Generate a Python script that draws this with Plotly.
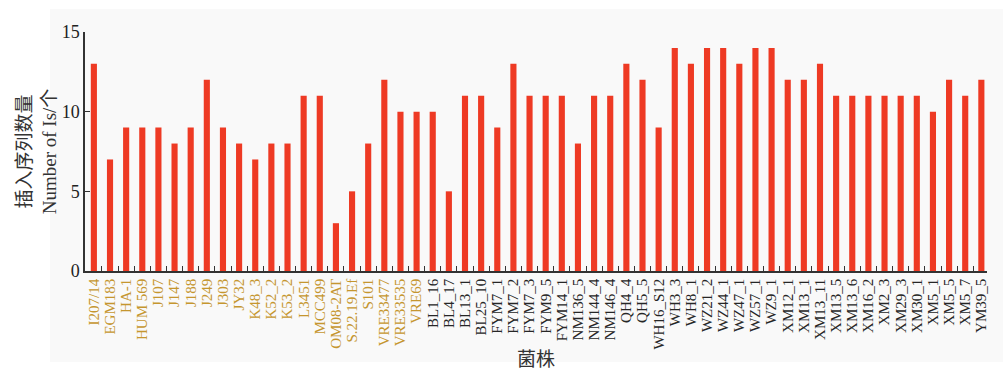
import plotly.graph_objects as go

# Strains from public databases (shown in gold) and isolates from this study (black)
ref_strains = ["I207/14", "EGM183", "HA-1", "HUM 569", "J107", "J147", "J188", "J249",
               "J303", "JY32", "K48_3", "K52_2", "K53_2", "L3451", "MCC499", "OM08-2AT",
               "S.22.19.Ef", "S101", "VRE33477", "VRE33535", "VRE69"]
ref_counts = [13, 7, 9, 9, 9, 8, 9, 12, 9, 8, 7, 8, 8, 11, 11, 3, 5, 8, 12, 10, 10]

new_strains = ["BL1_16", "BL4_17", "BL13_1", "BL25_10", "FYM7_1", "FYM7_2", "FYM7_3",
               "FYM9_5", "FYM14_1", "NM136_5", "NM144_4", "NM146_4", "QH4_4", "QH5_5",
               "WH16_S12", "WH3_3", "WH8_1", "WZ21_2", "WZ44_1", "WZ47_1", "WZ57_1",
               "WZ9_1", "XM12_1", "XM13_1", "XM13_11", "XM13_5", "XM13_6", "XM16_2",
               "XM2_3", "XM29_3", "XM30_1", "XM5_1", "XM5_5", "XM5_7", "YM39_5"]
new_counts = [10, 5, 11, 11, 9, 13, 11, 11, 11, 8, 11, 11, 13, 12, 9, 14, 13, 14, 14,
              13, 14, 14, 12, 12, 13, 11, 11, 11, 11, 11, 11, 10, 12, 11, 12]

y_ticks = [0, 5, 10, 15]

GOLD = "#c5962f"
DARK = "#262626"
BG = "#f9f9f9"

strains = ref_strains + new_strains
counts = ref_counts + new_counts
tick_text = ([f'<span style="color:{GOLD}">{s}</span>' for s in ref_strains] +
             [f'<span style="color:{DARK}">{s}</span>' for s in new_strains])

fig = go.Figure(go.Bar(x=strains, y=counts, marker=dict(color="#ee3a24", line=dict(width=0))))

fig.update_layout(
    width=1003, height=378,
    margin=dict(l=85, r=16, t=32, b=107),
    paper_bgcolor="white",
    plot_bgcolor=BG,
    bargap=0.62,
    showlegend=False,
    font=dict(family="Liberation Serif", color="#333"),
    shapes=[dict(type="rect", xref="paper", yref="paper",
                 x0=-0.0388, x1=1.02, y0=-0.381, y1=1.096,
                 fillcolor=BG, line=dict(width=0), layer="below")],
)

fig.update_xaxes(
    type="category",
    range=[-0.55, 55.35],
    automargin=False,
    tickmode="array", tickvals=strains, ticktext=tick_text,
    tickangle=-90,
    tickfont=dict(family="Liberation Serif", size=15),
    tickson="boundaries",
    ticks="inside", ticklen=5, tickcolor="#333",
    showline=True, linecolor="#333", linewidth=1.5,
    showgrid=False, zeroline=False,
    title=dict(text="菌株", font=dict(family="Noto Sans CJK SC", size=19, color="#333333"), standoff=4),
)

fig.update_yaxes(
    range=[0, 15],
    automargin=False,
    tickmode="array", tickvals=y_ticks,
    tickfont=dict(family="Liberation Serif", size=18, color="#222"),
    ticks="inside", ticklen=5, tickcolor="#333",
    showline=True, linecolor="#333", linewidth=1.5,
    showgrid=False, zeroline=False,
    title=dict(text="插入序列数量<br>Number of Is/个",
               font=dict(family="Liberation Serif, Noto Sans CJK SC", size=19, color="#333333"),
               standoff=0),
)

fig.write_html("out.html")
